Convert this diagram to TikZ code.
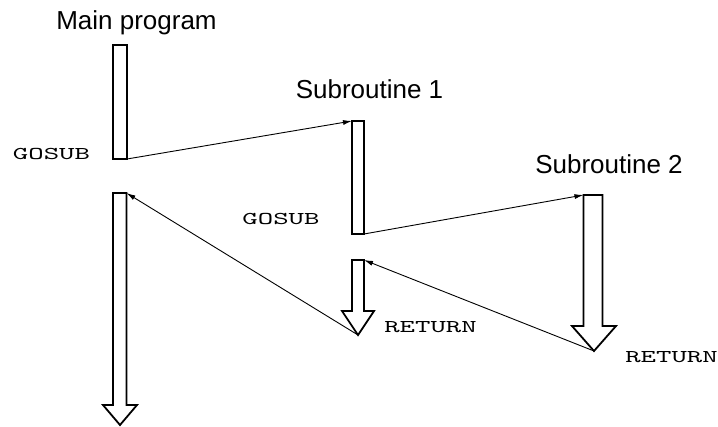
\documentclass[tikz,border=0pt]{standalone}
\usepackage{fontspec}
\setmainfont{Liberation Sans}
\newfontfamily\codefont[Extension=.otf,FakeStretch=1.63]{lmmono10-regular}
\usetikzlibrary{arrows.meta}

\tikzset{
  title/.style={anchor=base, inner sep=0pt, font=\fontsize{26}{30}\selectfont},
  code/.style={anchor=base, inner sep=0pt, font=\fontsize{18}{21}\codefont},
  bar/.style={draw, line width=1.8pt, outer sep=0pt, inner sep=0pt},
  blockarrow/.style={draw, line width=1.8pt, line join=miter},
  call/.style={line width=0.9pt, -{Latex[length=9pt,width=5pt]}}
}

\begin{document}
\begin{tikzpicture}[x=1pt,y=-1pt]
\useasboundingbox (0,0) rectangle (718,426);

% labels
\node[title] (mainlbl) at (136.5,29) {Main program};
\node[title] (sub1lbl) at (369.5,98) {Subroutine 1};
\node[title] (sub2lbl) at (609,173) {Subroutine 2};
\node[code] (gosub1) at (51.5,159) {GOSUB};
\node[code] (gosub2) at (281,224) {GOSUB};
\node[code] (return1) at (430.5,332) {RETURN};
\node[code] (return2) at (671.5,362) {RETURN};

% running parts before the call
\node[bar, minimum width=14pt, minimum height=114pt] (mainbar) at (120,102) {};
\node[bar, minimum width=12pt, minimum height=113pt] (sub1bar) at (358,177.5) {};

% running parts after the call (block arrows)
\draw[blockarrow] (113,193) -- (113,405) -- (103,405) -- (120,425) -- (137,405) -- (126.5,405) -- (126.5,193) -- cycle;
\draw[blockarrow] (352,260) -- (352,311) -- (342,311) -- (358,335) -- (374,311) -- (364,311) -- (364,260) -- cycle;
\draw[blockarrow] (583.5,195) -- (583.5,326) -- (572,326) -- (594,351) -- (616,326) -- (602.5,326) -- (602.5,195) -- cycle;
\coordinate (mainback) at (126.5,193);
\coordinate (sub1back) at (364,260);
\coordinate (sub1end) at (358,335);
\coordinate (sub2start) at (583.5,195);
\coordinate (sub2end) at (594,351);

% calls and returns
\draw[call] (mainbar.south east) -- (sub1bar.north west);
\draw[call] (sub1bar.south east) -- (sub2start);
\draw[call] (sub1end) -- (mainback);
\draw[call] (sub2end) -- (sub1back);
\end{tikzpicture}
\end{document}
